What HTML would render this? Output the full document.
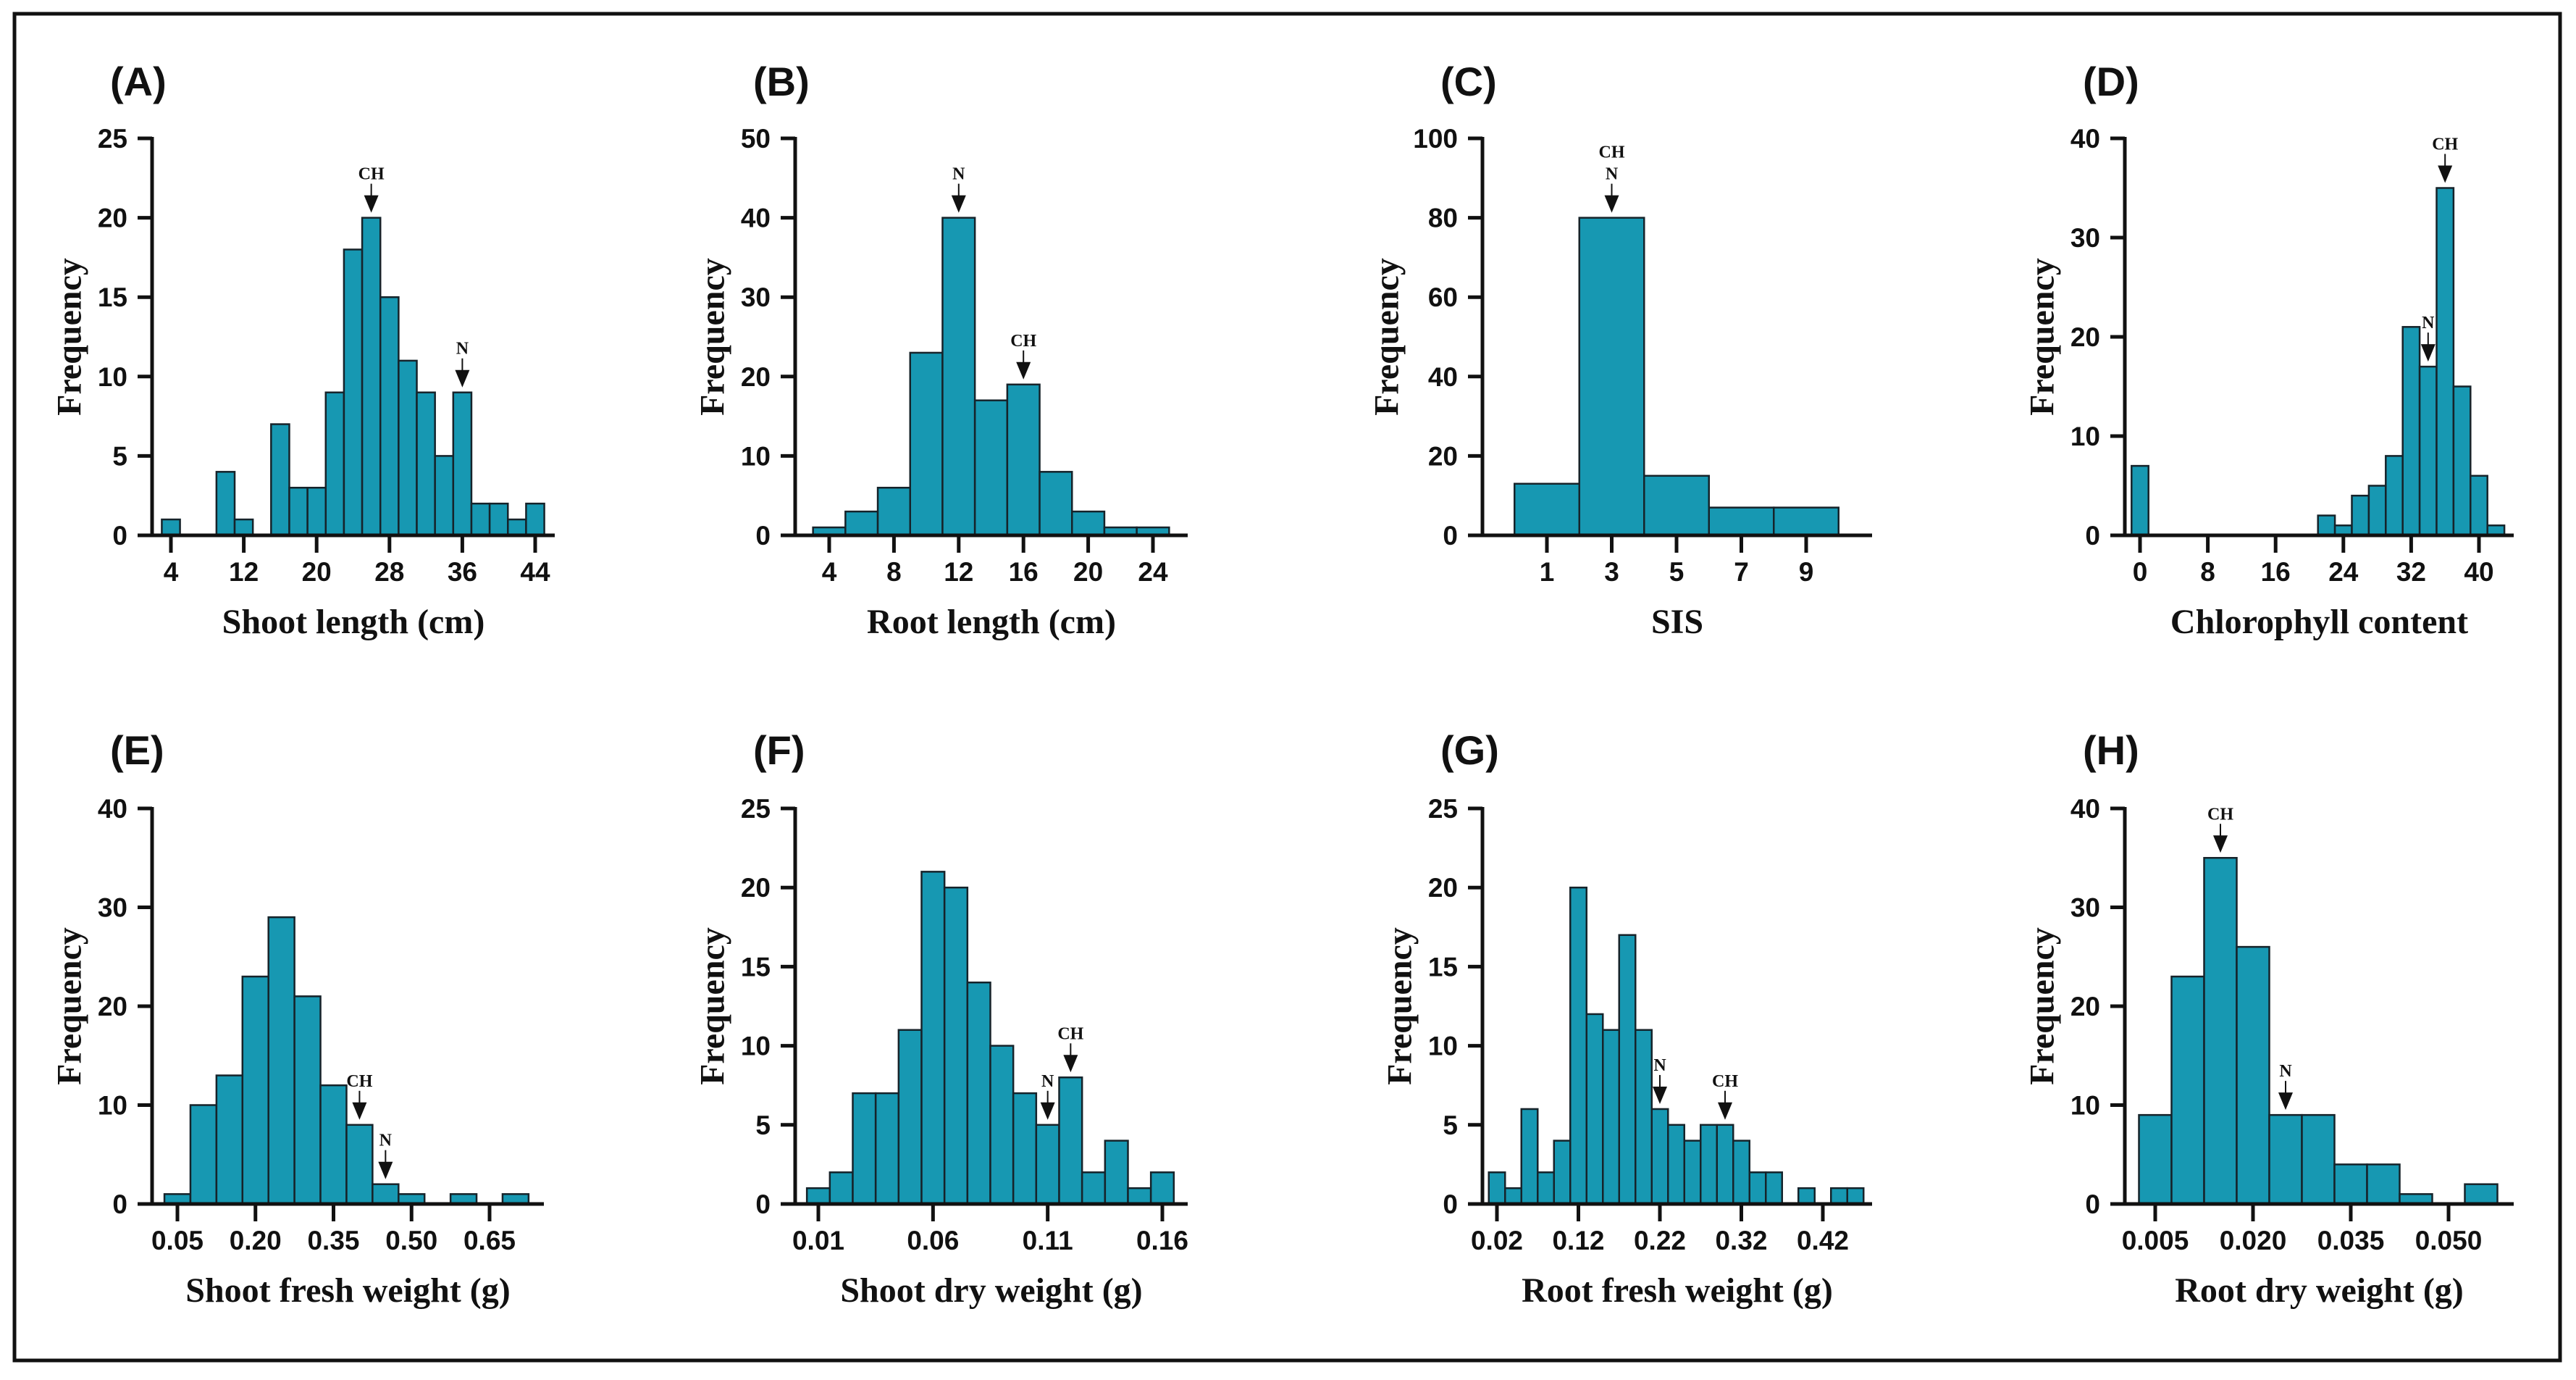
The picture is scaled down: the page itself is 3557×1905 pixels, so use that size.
<!DOCTYPE html>
<html><head><meta charset="utf-8"><title>Frequency distributions</title>
<style>
html,body{margin:0;padding:0;background:#fff;}
svg{display:block;}
.tick{font-family:"Liberation Sans",Arial,sans-serif;font-weight:bold;font-size:37px;fill:#111;}
.ttl{font-family:"Liberation Serif","Times New Roman",serif;font-weight:bold;font-size:48px;fill:#111;}
.lbl{font-family:"Liberation Sans",Arial,sans-serif;font-weight:bold;font-size:56px;fill:#111;}
.ann{font-family:"Liberation Serif","Times New Roman",serif;font-weight:bold;font-size:24px;fill:#111;}
</style></head>
<body>
<svg id="fig" xmlns="http://www.w3.org/2000/svg" width="3557" height="1905" viewBox="0 0 3557 1905">
<rect x="20" y="19" width="3515" height="1859" fill="#fff" stroke="#111" stroke-width="5"/>
</svg>
<script>
// ---- data ----
const aBins=[4,6,8,10,12,14,16,18,20,22,24,26,28,30,32,34,36,38,40,42,44];
const aCounts=[1,0,0,4,1,0,7,3,3,9,18,20,15,11,9,5,9,2,2,1,2];
const aXTicks=[4,12,20,28,36,44];
const aXLabels=["4","12","20","28","36","44"];
const aYTicks=[0,5,10,15,20,25];

const bBins=[4,6,8,10,12,14,16,18,20,22,24];
const bCounts=[1,3,6,23,40,17,19,8,3,1,1];
const bXTicks=[4,8,12,16,20,24];
const bXLabels=["4","8","12","16","20","24"];
const bYTicks=[0,10,20,30,40,50];

const cBins=[1,3,5,7,9];
const cCounts=[13,80,15,7,7];
const cXTicks=[1,3,5,7,9];
const cXLabels=["1","3","5","7","9"];
const cYTicks=[0,20,40,60,80,100];

const dBins=[0,2,4,6,8,10,12,14,16,18,20,22,24,26,28,30,32,34,36,38,40,42];
const dCounts=[7,0,0,0,0,0,0,0,0,0,0,2,1,4,5,8,21,17,35,15,6,1];
const dXTicks=[0,8,16,24,32,40];
const dXLabels=["0","8","16","24","32","40"];
const dYTicks=[0,10,20,30,40];

const eBins=[0.05,0.10,0.15,0.20,0.25,0.30,0.35,0.40,0.45,0.50,0.55,0.60,0.65,0.70];
const eCounts=[1,10,13,23,29,21,12,8,2,1,0,1,0,1];
const eXTicks=[0.05,0.20,0.35,0.50,0.65];
const eXLabels=["0.05","0.20","0.35","0.50","0.65"];
const eYTicks=[0,10,20,30,40];

const fBins=[0.01,0.02,0.03,0.04,0.05,0.06,0.07,0.08,0.09,0.10,0.11,0.12,0.13,0.14,0.15,0.16];
const fCounts=[1,2,7,7,11,21,20,14,10,7,5,8,2,4,1,2];
const fXTicks=[0.01,0.06,0.11,0.16];
const fXLabels=["0.01","0.06","0.11","0.16"];
const fYTicks=[0,5,10,15,20,25];

const gBins=[0.02,0.04,0.06,0.08,0.10,0.12,0.14,0.16,0.18,0.20,0.22,0.24,0.26,0.28,0.30,0.32,0.34,0.36,0.38,0.40,0.42,0.44,0.46];
const gCounts=[2,1,6,2,4,20,12,11,17,11,6,5,4,5,5,4,2,2,0,1,0,1,1];
const gXTicks=[0.02,0.12,0.22,0.32,0.42];
const gXLabels=["0.02","0.12","0.22","0.32","0.42"];
const gYTicks=[0,5,10,15,20,25];

const hBins=[0.005,0.010,0.015,0.020,0.025,0.030,0.035,0.040,0.045,0.050,0.055];
const hCounts=[9,23,35,26,9,9,4,4,1,0,2];
const hXTicks=[0.005,0.020,0.035,0.050];
const hXLabels=["0.005","0.020","0.035","0.050"];
const hYTicks=[0,10,20,30,40];

// markers: [label, bin value]
const aMarks=[["CH",26],["N",36]];
const bMarks=[["N",12],["CH",16]];
const cMarks=[["CH\nN",3]];
const dMarks=[["CH",36],["N",34]];
const eMarks=[["CH",0.40],["N",0.45]];
const fMarks=[["N",0.11],["CH",0.12]];
const gMarks=[["N",0.22],["CH",0.30]];
const hMarks=[["CH",0.015],["N",0.025]];

// ---- layout (pixel geometry, not data) ----
const panels=[
 {id:"a",letter:"(A)",title:"Shoot length (cm)",bins:aBins,counts:aCounts,xt:aXTicks,xl:aXLabels,yt:aYTicks,marks:aMarks,bw:2,
  ax:210,axEnd:766,t0:[4,236],t1:[44,739],top:191,zero:739,row:0,ftOff:114},
 {id:"b",letter:"(B)",title:"Root length (cm)",bins:bBins,counts:bCounts,xt:bXTicks,xl:bXLabels,yt:bYTicks,marks:bMarks,bw:2,
  ax:1098,axEnd:1640,t0:[4,1145],t1:[24,1592],top:191,zero:739,row:0,ftOff:114},
 {id:"c",letter:"(C)",title:"SIS",bins:cBins,counts:cCounts,xt:cXTicks,xl:cXLabels,yt:cYTicks,marks:cMarks,bw:2,
  ax:2047,axEnd:2585,t0:[1,2136],t1:[9,2494],top:191,zero:739,row:0,ftOff:132},
 {id:"d",letter:"(D)",title:"Chlorophyll content",bins:dBins,counts:dCounts,xt:dXTicks,xl:dXLabels,yt:dYTicks,marks:dMarks,bw:2,
  ax:2934,axEnd:3471,t0:[0,2955],t1:[40,3423],top:191,zero:739,row:0,ftOff:114},
 {id:"e",letter:"(E)",title:"Shoot fresh weight (g)",bins:eBins,counts:eCounts,xt:eXTicks,xl:eXLabels,yt:eYTicks,marks:eMarks,bw:0.05,
  ax:210,axEnd:751,t0:[0.05,245],t1:[0.65,676],top:1116,zero:1662,row:1,ftOff:114},
 {id:"f",letter:"(F)",title:"Shoot dry weight (g)",bins:fBins,counts:fCounts,xt:fXTicks,xl:fXLabels,yt:fYTicks,marks:fMarks,bw:0.01,
  ax:1098,axEnd:1640,t0:[0.01,1130],t1:[0.16,1605],top:1116,zero:1662,row:1,ftOff:114},
 {id:"g",letter:"(G)",title:"Root fresh weight (g)",bins:gBins,counts:gCounts,xt:gXTicks,xl:gXLabels,yt:gYTicks,marks:gMarks,bw:0.02,
  ax:2047,axEnd:2585,t0:[0.02,2067],t1:[0.42,2517],top:1116,zero:1662,row:1,ftOff:114},
 {id:"h",letter:"(H)",title:"Root dry weight (g)",bins:hBins,counts:hCounts,xt:hXTicks,xl:hXLabels,yt:hYTicks,marks:hMarks,bw:0.005,
  ax:2934,axEnd:3471,t0:[0.005,2976],t1:[0.050,3381],top:1116,zero:1662,row:1,ftOff:114}
];

const NS="http://www.w3.org/2000/svg";
const svg=document.getElementById("fig");
function mk(tag,attrs,parent){const e=document.createElementNS(NS,tag);for(const k in attrs)e.setAttribute(k,attrs[k]);(parent||svg).appendChild(e);return e;}

panels.forEach(p=>{
  const g=mk("g",{});
  
  
  const ymax=p.yt[p.yt.length-1];
  const xs=v=>p.t0[1]+(v-p.t0[0])*(p.t1[1]-p.t0[1])/(p.t1[0]-p.t0[0]);
  const ys=v=>p.zero-(v/ymax)*(p.zero-p.top);
  const rowOff=p.row*923;

  const L=mk("text",{x:p.ax-58,y:132+rowOff,class:"lbl"},g);
  L.textContent=p.letter;
  
  

  p.bins.forEach((b,i)=>{
    const c=p.counts[i]; if(!c) return;
    const x0=xs(b-p.bw/2), x1=xs(b+p.bw/2);
    const r=mk("rect",{x:x0,y:ys(c),width:x1-x0,height:p.zero-ys(c),fill:"#1798b2",stroke:"#16232a","stroke-width":2.5},g);
    
    
  });

  const ya=mk("line",{x1:p.ax,y1:p.top-2,x2:p.ax,y2:p.zero+2,stroke:"#111","stroke-width":5},g);
  
  
  p.yt.forEach(v=>{
    const y=ys(v);
    const t=mk("line",{x1:p.ax-20,y1:y,x2:p.ax,y2:y,stroke:"#111","stroke-width":5},g);
    
    
    const tl=mk("text",{x:p.ax-34,y:y+13,"text-anchor":"end",class:"tick"},g);
    tl.textContent=String(v);
    
    
  });
  const xa=mk("line",{x1:p.ax-20,y1:p.zero,x2:p.axEnd,y2:p.zero,stroke:"#111","stroke-width":5},g);
  
  
  p.xt.forEach((v,i)=>{
    const x=xs(v);
    const t=mk("line",{x1:x,y1:p.zero,x2:x,y2:p.zero+24,stroke:"#111","stroke-width":5},g);
    
    
    const tl=mk("text",{x:x,y:802+rowOff,"text-anchor":"middle",class:"tick"},g);
    tl.textContent=p.xl[i];
    
    
  });
  const xt=mk("text",{x:(p.ax+p.axEnd)/2,y:874+rowOff,"text-anchor":"middle",class:"ttl"},g);
  xt.textContent=p.title;
  
  
  const cy=(p.top+p.zero)/2, cx=p.ax-p.ftOff;
  const yt=mk("text",{x:cx,y:cy,"text-anchor":"middle","dominant-baseline":"central",class:"ttl",transform:"rotate(-90 "+cx+" "+cy+")"},g);
  yt.textContent="Frequency";
  
  

  p.marks.forEach(m=>{
    const idx=p.bins.findIndex(b=>Math.abs(b-m[1])<1e-9);
    const x=xs(m[1]);
    const tip=ys(p.counts[idx])-7;
    const mg=mk("g",{},g);
    
    
    mk("path",{d:"M"+(x-10)+" "+(tip-24)+"L"+(x+10)+" "+(tip-24)+"L"+x+" "+tip+"Z",fill:"#111"},mg);
    mk("line",{x1:x,y1:tip-40,x2:x,y2:tip-20,stroke:"#111","stroke-width":2},mg);
    const lines=m[0].split("\n");
    lines.forEach((s,k)=>{
      const tt=mk("text",{x:x,y:tip-46-(lines.length-1-k)*30,"text-anchor":"middle",class:"ann"},mg);
      tt.textContent=s;
    });
  });
});
</script>
</body></html>
